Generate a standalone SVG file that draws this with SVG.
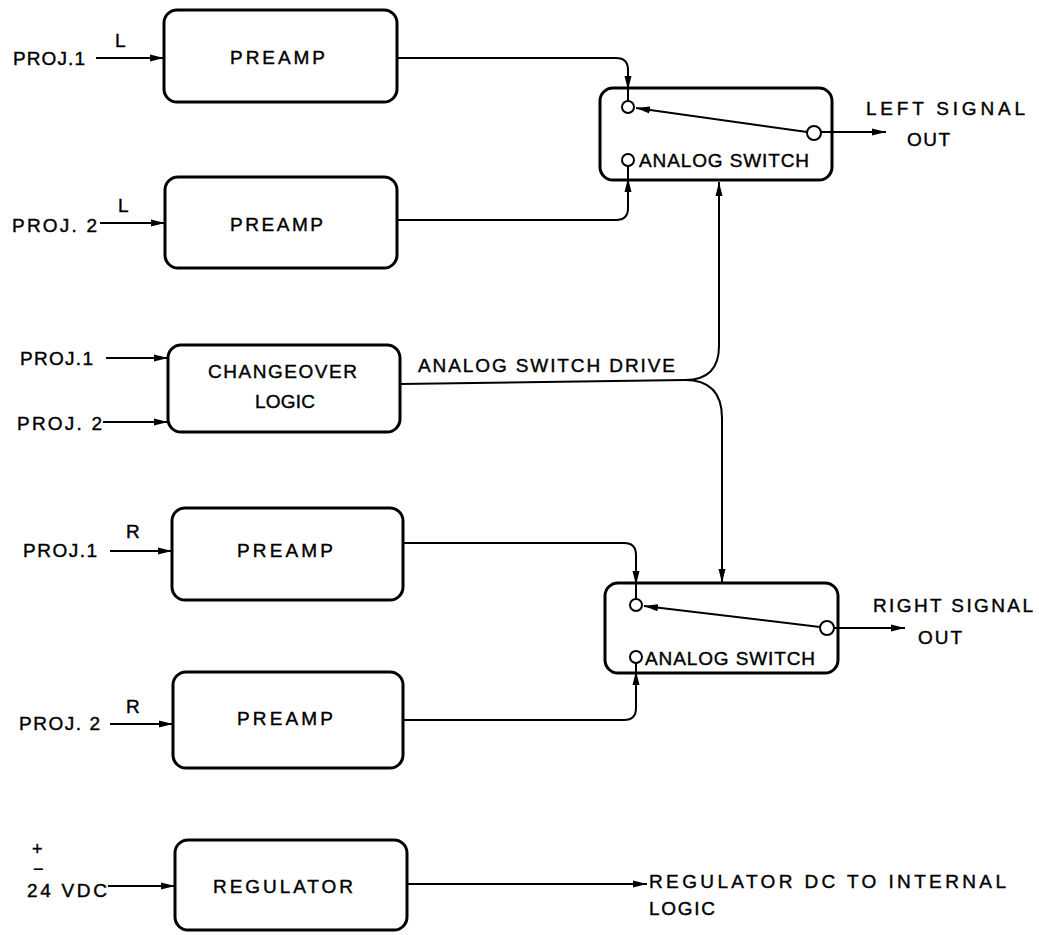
<svg xmlns="http://www.w3.org/2000/svg" width="1039" height="935" viewBox="0 0 1039 935">
<defs>
<style>
.box{fill:none;stroke:#000;stroke-width:3}
.wire{fill:none;stroke:#000;stroke-width:2}
.pin{fill:#fff;stroke:#000;stroke-width:2}
text{font-family:"Liberation Sans",Arial,sans-serif;font-size:19px;fill:#000;stroke:#000;stroke-width:0.4}
.pm{font-size:18px}
</style>
<marker id="ah" markerUnits="userSpaceOnUse" markerWidth="15" markerHeight="8" refX="14" refY="4" orient="auto">
<path d="M0,0.5 L14,4 L0,7.5 z" fill="#000"/>
</marker>
</defs>
<rect width="1039" height="935" fill="#fff"/>

<g id="preamp-l1">
<rect class="box" x="164" y="10" width="233" height="92" rx="13"/>
<text x="230" y="64" textLength="95" lengthAdjust="spacing">PREAMP</text>
</g>
<g id="preamp-l2">
<rect class="box" x="165" y="177" width="232" height="91" rx="13"/>
<text x="230" y="231" textLength="93" lengthAdjust="spacing">PREAMP</text>
</g>
<g id="changeover">
<rect class="box" x="168" y="345" width="232" height="87" rx="13"/>
<text x="208" y="378" textLength="149" lengthAdjust="spacing">CHANGEOVER</text>
<text x="255" y="408" textLength="60" lengthAdjust="spacing">LOGIC</text>
</g>
<g id="preamp-r1">
<rect class="box" x="172" y="508" width="231" height="92" rx="13"/>
<text x="237" y="557" textLength="96" lengthAdjust="spacing">PREAMP</text>
</g>
<g id="preamp-r2">
<rect class="box" x="173" y="672" width="230" height="96" rx="13"/>
<text x="237" y="725" textLength="96" lengthAdjust="spacing">PREAMP</text>
</g>
<g id="regulator">
<rect class="box" x="175" y="840" width="232" height="90" rx="13"/>
<text x="213" y="893" textLength="140" lengthAdjust="spacing">REGULATOR</text>
</g>

<g id="switch-left">
<rect class="box" x="600" y="88" width="232" height="92" rx="13"/>
<circle class="pin" cx="628" cy="107" r="6"/>
<circle class="pin" cx="628" cy="160" r="6"/>
<circle class="pin" cx="814" cy="133" r="7"/>
<line class="wire" x1="807" y1="132" x2="636" y2="108" marker-end="url(#ah)"/>
<text x="639" y="167" textLength="170" lengthAdjust="spacing">ANALOG SWITCH</text>
</g>
<g id="switch-right">
<rect class="box" x="605" y="583" width="233" height="90" rx="13"/>
<circle class="pin" cx="636" cy="605" r="6"/>
<circle class="pin" cx="636" cy="657" r="6"/>
<circle class="pin" cx="827" cy="628" r="7"/>
<line class="wire" x1="820" y1="627" x2="644" y2="606" marker-end="url(#ah)"/>
<text x="645" y="665" textLength="170" lengthAdjust="spacing">ANALOG SWITCH</text>
</g>

<g id="connectors">
<line class="wire" x1="96" y1="58" x2="164" y2="58" marker-end="url(#ah)"/>
<line class="wire" x1="100" y1="223" x2="165" y2="223" marker-end="url(#ah)"/>
<line class="wire" x1="106" y1="358" x2="168" y2="358" marker-end="url(#ah)"/>
<line class="wire" x1="103" y1="422" x2="168" y2="422" marker-end="url(#ah)"/>
<line class="wire" x1="110" y1="551" x2="172" y2="551" marker-end="url(#ah)"/>
<line class="wire" x1="110" y1="724" x2="173" y2="724" marker-end="url(#ah)"/>
<line class="wire" x1="108" y1="886" x2="175" y2="886" marker-end="url(#ah)"/>
<path class="wire" d="M397,58 H616 Q628,58 628,70 V90" marker-end="url(#ah)"/>
<line class="wire" x1="628" y1="88" x2="628" y2="101"/>
<path class="wire" d="M397,220 H616 Q628,220 628,208 V178" marker-end="url(#ah)"/>
<line class="wire" x1="628" y1="180" x2="628" y2="166"/>
<line class="wire" x1="821" y1="132" x2="886" y2="132" marker-end="url(#ah)"/>
<path class="wire" d="M403,543 H624 Q636,543 636,555 V585" marker-end="url(#ah)"/>
<line class="wire" x1="636" y1="583" x2="636" y2="599"/>
<path class="wire" d="M403,720 H624 Q636,720 636,708 V671" marker-end="url(#ah)"/>
<line class="wire" x1="636" y1="673" x2="636" y2="663"/>
<line class="wire" x1="834" y1="628" x2="905" y2="628" marker-end="url(#ah)"/>
<path class="wire" d="M400,384 L685,380"/>
<path class="wire" d="M685,380 Q719,380 719,346 V182" marker-end="url(#ah)"/>
<path class="wire" d="M685,380 Q722,380 722,418 V583" marker-end="url(#ah)"/>
<line class="wire" x1="407" y1="884" x2="647" y2="884" marker-end="url(#ah)"/>
</g>

<g id="labels">
<text x="13" y="65" textLength="72" lengthAdjust="spacing">PROJ.1</text>
<text x="115" y="47">L</text>
<text x="12" y="232" textLength="85" lengthAdjust="spacing">PROJ. 2</text>
<text x="118" y="212">L</text>
<text x="20" y="365" textLength="73" lengthAdjust="spacing">PROJ.1</text>
<text x="17" y="430" textLength="85" lengthAdjust="spacing">PROJ. 2</text>
<text x="418" y="372" textLength="257" lengthAdjust="spacing">ANALOG SWITCH DRIVE</text>
<text x="23" y="557" textLength="74" lengthAdjust="spacing">PROJ.1</text>
<text x="126" y="538">R</text>
<text x="19" y="730" textLength="81" lengthAdjust="spacing">PROJ. 2</text>
<text x="126" y="713">R</text>
<text x="866" y="115" textLength="159" lengthAdjust="spacing">LEFT SIGNAL</text>
<text x="907" y="146" textLength="43" lengthAdjust="spacing">OUT</text>
<text x="873" y="612" textLength="160" lengthAdjust="spacing">RIGHT SIGNAL</text>
<text x="918" y="644" textLength="44" lengthAdjust="spacing">OUT</text>
<text class="pm" x="32" y="855">+</text>
<text class="pm" x="33" y="875">−</text>
<text x="27" y="897" textLength="80" lengthAdjust="spacing">24 VDC</text>
<text x="649" y="888" textLength="357" lengthAdjust="spacing">REGULATOR DC TO  INTERNAL</text>
<text x="649" y="915" textLength="66" lengthAdjust="spacing">LOGIC</text>
</g>
</svg>
